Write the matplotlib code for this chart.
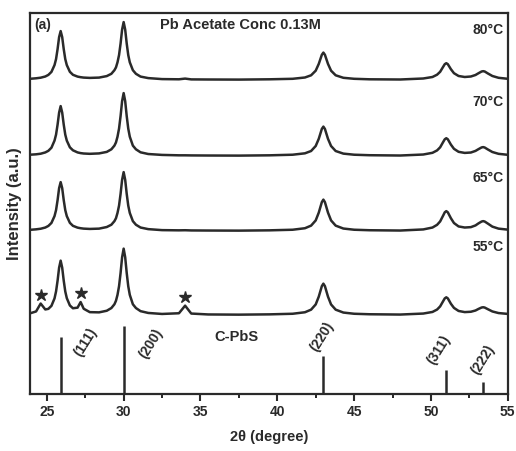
#! /usr/bin/env python
# XRD patterns of PbS films at different bath temperatures
import numpy as np
import matplotlib.pyplot as plt
from matplotlib.ticker import MultipleLocator

plt.rcParams['font.family'] = ['Liberation Sans', 'DejaVu Sans']
plt.rcParams['font.weight'] = 'bold'
plt.rcParams['axes.labelweight'] = 'bold'
plt.rcParams['mathtext.default'] = 'bf'

# 2theta grid (degree)
two_theta = [23.9, 24.3, 24.6, 24.9, 25.1, 25.3, 25.5, 25.6, 25.7, 25.8,
             25.9, 26.0, 26.1, 26.2, 26.3, 26.5, 26.7, 27.0, 27.2, 27.4,
             27.8, 28.4, 28.9, 29.2, 29.4, 29.5, 29.6, 29.7, 29.8, 29.9,
             30.0, 30.1, 30.2, 30.3, 30.4, 30.6, 30.8, 31.1, 31.6, 32.5,
             33.6, 34.0, 34.4, 35.5, 37.5, 39.5, 41.0, 41.8, 42.2, 42.5,
             42.7, 42.9, 43.0, 43.1, 43.3, 43.5, 43.8, 44.3, 45.0, 46.0,
             48.0, 49.5, 50.1, 50.4, 50.6, 50.8, 50.9, 51.0, 51.1, 51.3,
             51.5, 51.8, 52.2, 52.6, 52.9, 53.1, 53.3, 53.4, 53.5, 53.7,
             54.0, 54.4, 55.0]

# intensities (a.u.)
int_80 = [1.3, 1.8, 2.4, 3.6, 5.2, 8.2, 15, 21, 31, 43,
          49, 43, 31, 21, 15, 8.3, 5.3, 3.5, 2.9, 2.5,
          2.2, 2.5, 4, 6.3, 9.9, 12.7, 17.8, 25, 36.5, 50.5,
          58, 50.5, 36.5, 25, 17.8, 9.9, 6.3, 3.5, 2, 1,
          0.8, 1.5, 0.7, 0.6, 0.5, 0.8, 1.3, 2.6, 4.8, 9.4,
          16.2, 25.3, 27.5, 25.3, 16.2, 9.4, 4.8, 2.3, 1.3, 0.8,
          0.6, 1.6, 3.1, 5.4, 8.3, 13.4, 15.9, 16.9, 15.9, 10.9,
          6.9, 4.1, 3.1, 3.6, 5.1, 6.9, 8.6, 8.9, 8.6, 6.7,
          4.1, 2.3, 1.3]
int_70 = [1.4, 1.8, 2.4, 3.7, 5.3, 8.4, 15.5, 21.5, 31.5, 43.5,
          50, 43.5, 31.5, 21.5, 15.5, 8.8, 5.8, 3.7, 3, 2.6,
          2.3, 2.7, 4.2, 6.8, 10.5, 13.7, 19.4, 27.5, 40, 55,
          63, 55, 40, 27.5, 19.4, 10.5, 6.8, 3.8, 2.1, 1.2,
          0.8, 0.8, 0.7, 0.6, 0.5, 0.8, 1.4, 2.8, 5.1, 10.1,
          17.3, 27.2, 29.5, 27.2, 17.3, 10.1, 5.1, 2.5, 1.4, 0.9,
          0.6, 1.6, 3.3, 5.7, 8.8, 14.2, 16.8, 17.9, 16.8, 11.5,
          7.3, 4.3, 3.2, 3.6, 5.2, 7, 8.7, 9, 8.6, 6.7,
          4.1, 2.3, 1.3]
int_65 = [1.3, 1.8, 2.4, 3.6, 5.2, 8.2, 15, 21, 31, 43,
          49, 43, 31, 21, 15, 8.3, 5.3, 3.5, 2.9, 2.5,
          2.2, 2.5, 4.1, 6.4, 10, 12.9, 18.2, 25.5, 37.2, 51.3,
          59, 51.3, 37.2, 25.5, 18.2, 10, 6.4, 3.6, 2, 1,
          0.8, 0.9, 0.7, 0.6, 0.5, 0.8, 1.4, 2.9, 5.5, 10.7,
          18.5, 29, 31.5, 29, 18.5, 10.7, 5.5, 2.6, 1.4, 0.9,
          0.6, 1.7, 3.6, 6.3, 9.7, 15.7, 18.8, 20, 18.8, 12.9,
          8.1, 4.7, 3.6, 4, 5.7, 7.8, 9.6, 10, 9.6, 7.6,
          4.5, 2.5, 1.5]
int_55 = [1.8, 3.7, 11.6, 5.7, 6.3, 9.3, 16.7, 23.7, 34.5, 47.5,
          54.5, 47.5, 34.5, 23.7, 17, 9.7, 6.9, 7.5, 13.1, 6.4,
          3, 2.8, 4.4, 7.1, 10.9, 14.4, 20.3, 28.9, 42.1, 57.9,
          66.5, 57.9, 42.1, 28.9, 20.3, 10.9, 7.1, 4, 2.2, 1.2,
          1.9, 9.5, 1.6, 0.7, 0.5, 0.8, 1.4, 2.9, 5.5, 10.7,
          18.5, 29, 31.5, 29, 18.5, 10.7, 5.5, 2.6, 1.4, 0.9,
          0.6, 1.6, 3.2, 5.6, 8.75, 14.1, 16.75, 17.85, 16.75, 11.4,
          7.25, 4.2, 3.05, 3.4, 4.65, 6.25, 7.65, 7.9, 7.6, 6,
          3.7, 2.1, 1.25]

temps = ['80', '70', '65', '55']
series = [int_80, int_70, int_65, int_55]

# impurity peaks marked with stars (55 C)
star_pos = [24.65, 27.2, 34.0]
star_int = [11.6, 13.1, 9.5]

# cubic PbS reference pattern
ref_pos = [25.9, 30.0, 43.0, 51.0, 53.4]
ref_int = [57, 68, 38, 24, 12]
ref_hkl = ['(111)', '(200)', '(220)', '(311)', '(222)']

# layout
offsets = [314, 238, 163, 79]
temp_label_y = [364, 292, 216, 147]
hkl_xy = [(27.5, 52), (31.8, 51), (42.9, 58), (50.5, 44), (53.4, 34)]
col = '#2a2a2a'

fig = plt.figure(figsize=(5.16, 4.51), dpi=100)
ax = fig.add_axes([0.058, 0.126, 0.926, 0.845])

x = np.array(two_theta)
for t, y, off, ly in zip(temps, series, offsets, temp_label_y):
    ax.plot(x, np.array(y) + off, color=col, lw=1.8)
    ax.text(54.75, ly, t + '°C', ha='right', va='center',
            fontsize=10, color=col)

ax.plot(star_pos, np.array(star_int) + offsets[3] + 9, '*', color=col,
        markersize=9)

ax.vlines(ref_pos, 0, ref_int, color=col, lw=1.8)
for (hx, hy), lab in zip(hkl_xy, ref_hkl):
    ax.text(hx, hy, lab, rotation=58, ha='center', va='center',
            fontsize=10, color=col)
ax.text(37.35, 57, 'C-PbS', ha='center', va='center', fontsize=10.5, color=col)

ax.text(24.15, 369, '(a)', ha='left', va='center', fontsize=10, color=col)
ax.text(37.6, 369, 'Pb Acetate Conc 0.13M', ha='center', va='center',
        fontsize=10.5, color=col)

ax.set_xlim(23.9, 55)
ax.set_ylim(0, 381)
ax.xaxis.set_major_locator(MultipleLocator(5))
ax.xaxis.set_minor_locator(MultipleLocator(2.5))
ax.tick_params(axis='x', which='major', direction='out', length=5, width=1.5,
               labelsize=10, colors=col, pad=3)
ax.tick_params(axis='x', which='minor', direction='out', length=3, width=1.2)
ax.set_yticks([])
for s in ax.spines.values():
    s.set_linewidth(1.6)
    s.set_color(col)

ax.set_xlabel('2θ (degree)', fontsize=10.5, color=col, labelpad=8)
ax.set_ylabel('Intensity (a.u.)', fontsize=12, color=col, labelpad=6)

plt.savefig('out.png', dpi=100)
